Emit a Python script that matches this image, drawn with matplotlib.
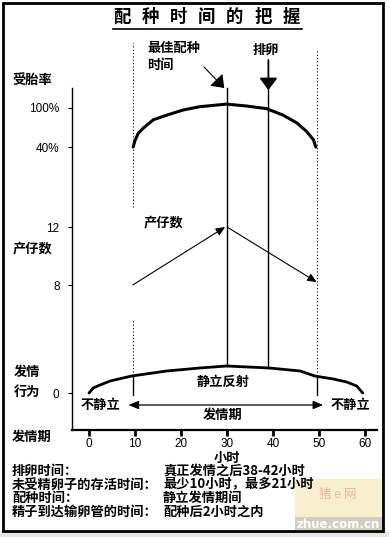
import matplotlib
matplotlib.use('Agg')
import matplotlib.pyplot as plt
import numpy as np
from matplotlib.patches import Rectangle
from matplotlib.lines import Line2D

plt.rcParams['font.family'] = ['Noto Sans CJK SC', 'DejaVu Sans']

# hours after onset of heat
hour_ticks = [0, 10, 20, 30, 40, 50, 60]

# conception rate curve (%)
fert_hours = [9.6, 10.0, 10.7, 11.8, 14.0, 16.9, 20.5, 24.1, 29.9, 34.3, 38.6, 42.2, 45.2, 47.3, 48.8, 49.3]
fert_pct = [40, 50, 61, 69, 82, 89, 97, 102, 106, 103, 99, 89, 77, 64, 51, 40]

# litter size trend
litter_hours = [9.5, 30, 49.5]
litter_size = [8, 12, 8]

# estrus behaviour curve
estrus_hours = [0, 0.9, 2.4, 4.6, 7.4, 9.3, 16.9, 24.1, 29.9, 39.2, 45.9, 49.1, 53.1, 56.0, 58.2, 59.5]
estrus_level = [0, 5, 8, 12, 15, 17, 22, 25, 27, 25, 22, 17, 14, 11, 7, 0]

best_mating = 30
ovulation = 39
standing = [9.5, 49.5]

title_chars = ['配', '种', '时', '间', '的', '把', '握']
notes_left = ['排卵时间：', '未受精卵子的存活时间：', '配种时间：', '精子到达输卵管的时间：']
notes_right = ['真正发情之后38-42小时', '最少10小时，最多21小时', '静立发情期间', '配种后2小时之内']


# the three panels share one vertical scale
def fert_y(p):
    return 283 + 0.65 * (p - 40)


def litter_y(n):
    return 145 + 14.5 * (n - 8)


def estrus_y(b):
    return 37 + b


W, H = 389, 537
fig = plt.figure(figsize=(W / 100, H / 100), dpi=100)


def put(x, y, s, **kw):
    kw.setdefault('ha', 'center')
    kw.setdefault('va', 'center')
    kw.setdefault('fontsize', 9.5)
    kw.setdefault('fontweight', 'bold')
    fig.text(x / W, 1 - y / H, s, **kw)


ax = fig.add_axes([72 / W, 1 - 430 / H, (377 - 72) / W, 390 / H])
ax.patch.set_alpha(0)
ax.set_xlim((72 - 89) / 4.6, (377 - 89) / 4.6)
ax.set_ylim(0, 390)
for s in ['top', 'right']:
    ax.spines[s].set_visible(False)
ax.spines['left'].set_bounds(0, 342)
ax.spines['left'].set_linewidth(1.0)
ax.spines['bottom'].set_linewidth(1.6)

ax.set_xticks(hour_ticks)
ax.set_xticklabels([str(h) for h in hour_ticks])
ax.tick_params(axis='x', direction='out', length=4.5, width=2, pad=1.5, labelsize=8.5)
ax.set_yticks([estrus_y(0), litter_y(8), litter_y(12), fert_y(40), fert_y(100)])
ax.set_yticklabels(['0', '8', '12', '40%', '100%'])
ax.tick_params(axis='y', direction='out', length=3, width=0.8, pad=6, labelsize=8.5)
for lbl in ax.get_xticklabels() + ax.get_yticklabels():
    lbl.set_fontfamily('Liberation Sans')

# conception rate
ax.plot(fert_hours, [fert_y(p) for p in fert_pct], color='black', lw=2.2, solid_capstyle='round')

# dotted boundaries of the standing period
dot = (0, (1, 2))
ax.plot([standing[0]] * 2, [223, 387], color='black', lw=0.8, ls=dot)
ax.plot([standing[0]] * 2, [58, 110], color='black', lw=0.8, ls=dot)
ax.plot([standing[1]] * 2, [58, 380], color='black', lw=0.8, ls=dot)

# best mating time and ovulation lines
for h in [best_mating, ovulation]:
    ax.plot([h, h], [estrus_y(np.interp(h, estrus_hours, estrus_level)), 342], color='black', lw=1.0)

# estrus behaviour
ax.plot(estrus_hours, [estrus_y(b) for b in estrus_level], color='black', lw=2.0, solid_capstyle='round')
for h in standing:
    ax.plot([h, h], [estrus_y(-2), estrus_y(np.interp(h, estrus_hours, estrus_level))], color='black', lw=1.0)

# litter size arrows
ap = dict(arrowstyle='-|>,head_length=0.5,head_width=0.22', color='black', lw=0.8,
          mutation_scale=11, shrinkA=0, shrinkB=0)
ax.annotate('', xy=(litter_hours[1] - 0.4, litter_y(litter_size[1])),
            xytext=(litter_hours[0], litter_y(litter_size[0])), arrowprops=ap)
ax.annotate('', xy=(litter_hours[2], litter_y(litter_size[2] + 0.2)),
            xytext=(litter_hours[1], litter_y(litter_size[1])), arrowprops=ap)

# pointers from the top labels
big = dict(arrowstyle='-|>,head_length=0.6,head_width=0.45', color='black', lw=0.8,
           mutation_scale=12, shrinkA=0, shrinkB=0)
ax.annotate('', xy=(best_mating - 0.6, 342), xytext=(best_mating - 5, 363), arrowprops=big)
big2 = dict(big, lw=1.3)
ax.annotate('', xy=(ovulation, 340), xytext=(ovulation, 370), arrowprops=big2)

# estrus period double arrow
ax.annotate('', xy=(8.6, 25), xytext=(50.9, 25),
            arrowprops=dict(arrowstyle='<|-|>,head_length=0.6,head_width=0.25', color='black',
                            lw=0.9, mutation_scale=10, shrinkA=0, shrinkB=0))

# title
for i, c in enumerate(title_chars):
    put(122 + 28.2 * i, 17, c, fontsize=12.5)
fig.add_artist(Line2D([113 / W, 302 / W], [1 - 29 / H] * 2, lw=1.2, color='black'))

# labels
put(32, 80, '受胎率')
put(33, 248, '产仔数')
put(27, 372, '发情')
put(27, 392, '行为')
put(32, 437, '发情期')
put(147, 48, '最佳配种', ha='left')
put(147, 65, '时间', ha='left')
put(266, 50, '排卵')
put(164, 222, '产仔数')
put(223, 382, '静立反射')
put(100, 405, '不静立')
put(350, 405, '不静立')
put(223, 415, '发情期')
put(227, 458, '小时')

for i, (a, b) in enumerate(zip(notes_left, notes_right)):
    y = 471 + 13.5 * i
    put(12, y, a, ha='left')
    put(163, y, b, ha='left')

# watermark
fig.add_artist(Rectangle((295 / W, 1 - 517 / H), 87 / W, 38 / H, transform=fig.transFigure,
                         color='#f4e3a6', alpha=0.55, lw=0))
fig.add_artist(Rectangle((295 / W, 1 - 530 / H), 87 / W, 13 / H, transform=fig.transFigure,
                         color='#c9c2b0', alpha=0.8, lw=0))
put(338, 524, 'zhue.com.cn', color='white', fontsize=8.5, family='DejaVu Sans')
put(338, 494, '猪 e 网', color='#e8b8a0', fontsize=9, fontweight='normal')

# frame
fig.add_artist(Rectangle((0, 0), 1, 5 / H, transform=fig.transFigure, color='#e6e6e6', lw=0))
fig.add_artist(Rectangle((2.5 / W, 1 - 531 / H), 380 / W, 528.5 / H, transform=fig.transFigure,
                         fill=False, ec='black', lw=2.0))

fig.savefig('out.png', dpi=100)
